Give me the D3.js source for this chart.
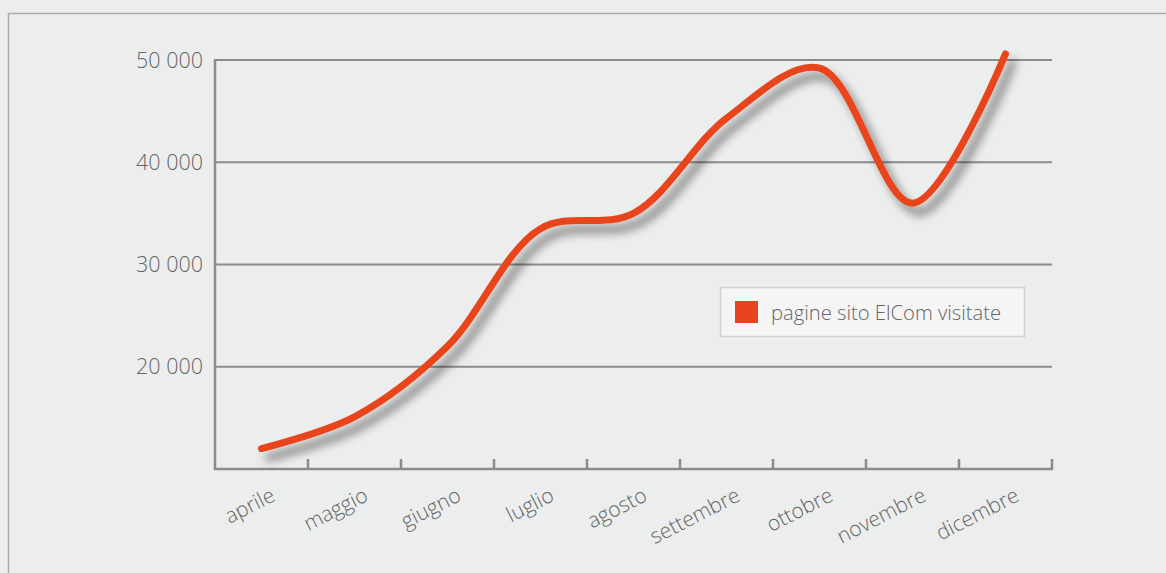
<!DOCTYPE html>
<html><head><meta charset="utf-8">
<script src="https://cdn.jsdelivr.net/npm/d3@7"></script>
<style>
html,body{margin:0;padding:0;background:#eceeed;}
svg{display:block;}
text{font-family:"Open Sans",sans-serif;font-weight:350;fill:#646464;}
</style></head>
<body>
<svg id="c" width="1166" height="573"></svg>
<script>
const months = ["aprile","maggio","giugno","luglio","agosto","settembre","ottobre","novembre","dicembre"];
const visits = [12000,15100,22000,33500,35000,44300,49200,36000,50600];
const yTicks = [20000,30000,40000,50000];
const yTickLabels = ["20 000","30 000","40 000","50 000"];
const seriesName = "pagine sito ElCom visitate";

(function(){
const svg = d3.select("#c");
const W = 1166, H = 573;
svg.append("rect").attr("x",0).attr("y",0).attr("width",W).attr("height",H).attr("fill","#eceeed");
svg.append("rect").attr("x",8.5).attr("y",13.5).attr("width",1200).attr("height",600)
  .attr("fill","none").attr("stroke","#a9abac").attr("stroke-width",1.5);

const pL = 215, pR = 1052, pT = 60, pB = 469;
const x = d3.scaleBand().domain(months).range([pL,pR]).padding(0);
const y = d3.scaleLinear().domain([10000,50000]).range([pB,pT]);

const defs = svg.append("defs");
const f = defs.append("filter").attr("id","sh").attr("x","-10%").attr("y","-10%").attr("width","130%").attr("height","130%");
f.append("feDropShadow").attr("dx",7).attr("dy",9).attr("stdDeviation",5)
  .attr("flood-color","#000").attr("flood-opacity",0.48);

svg.append("g").selectAll("line").data(yTicks).join("line")
  .attr("x1",pL).attr("x2",pR).attr("y1",d=>y(d)).attr("y2",d=>y(d))
  .attr("stroke","#8a8c8c").attr("stroke-width",2);

svg.append("g").selectAll("text").data(yTicks).join("text")
  .attr("x",203).attr("y",d=>y(d)).attr("dy","0.36em").attr("text-anchor","end")
  .attr("font-size",21.5).text((d,i)=>yTickLabels[i]);

svg.append("line").attr("x1",pL).attr("x2",pL).attr("y1",pT-1).attr("y2",pB+1)
  .attr("stroke","#8a8c8c").attr("stroke-width",2.5);
svg.append("line").attr("x1",pL-1).attr("x2",pR+1).attr("y1",pB).attr("y2",pB)
  .attr("stroke","#8a8c8c").attr("stroke-width",2.5);
const tickPos = months.map(m=>x(m)+x.bandwidth());
svg.append("g").selectAll("line").data(tickPos).join("line")
  .attr("x1",d=>d).attr("x2",d=>d).attr("y1",pB).attr("y2",pB-10)
  .attr("stroke","#8a8c8c").attr("stroke-width",2.5);

svg.append("g").selectAll("text").data(months).join("text")
  .attr("text-anchor","end").attr("font-size",21)
  .attr("transform",d=>`translate(${x(d)+x.bandwidth()/2+15},${500}) rotate(-27)`)
  .text(d=>d);

const line = d3.line().x((d,i)=>x(months[i])+x.bandwidth()/2).y(d=>y(d)).curve(d3.curveCatmullRom.alpha(0.5));
svg.append("path").datum(visits).attr("d",line).attr("fill","none")
  .attr("stroke","#e8441f").attr("stroke-width",7).attr("stroke-linecap","round")
  .attr("filter","url(#sh)");

const lg = svg.append("g");
lg.append("rect").attr("x",720.5).attr("y",287.5).attr("width",304).attr("height",49)
  .attr("fill","#f5f5f5").attr("stroke","#cfd0d0").attr("stroke-width",1.5);
lg.append("rect").attr("x",735).attr("y",301).attr("width",23).attr("height",22).attr("fill","#e8441f");
lg.append("text").attr("x",771).attr("y",320).attr("font-size",20.2).text(seriesName);
})();
</script>
</body></html>
